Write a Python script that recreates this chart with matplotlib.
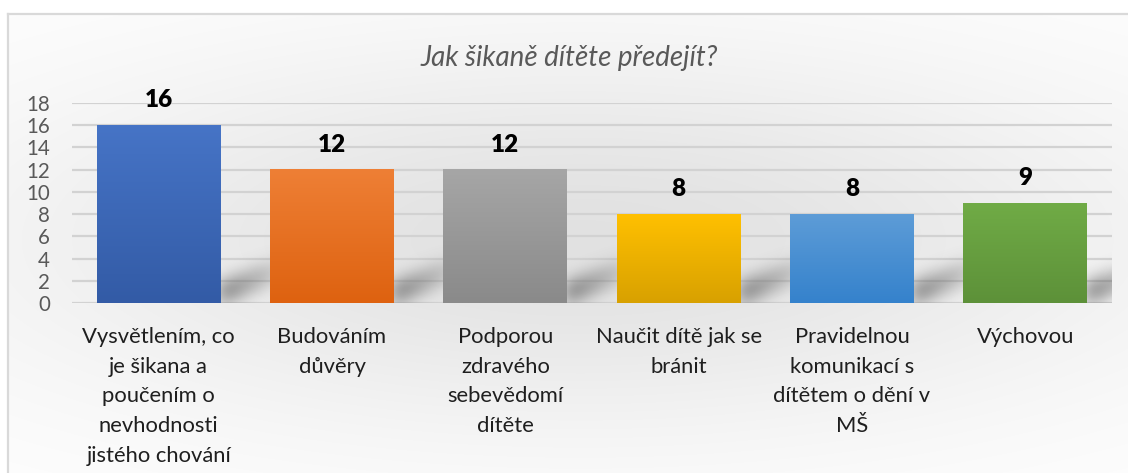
import numpy as np
import matplotlib
matplotlib.use("Agg")
import matplotlib.pyplot as plt

# ---- data ----
title = "Jak šikaně dítěte předejít?"
categories = [
    "Vysvětlením, co\nje šikana a\npoučením o\nnevhodnosti\njistého chování",
    "Budováním\ndůvěry",
    "Podporou\nzdravého\nsebevědomí\ndítěte",
    "Naučit dítě jak se\nbránit",
    "Pravidelnou\nkomunikací s\ndítětem o dění v\nMŠ",
    "Výchovou",
]
values = [16, 12, 12, 8, 8, 9]
yticks = [0, 2, 4, 6, 8, 10, 12, 14, 16, 18]
# gradient colours (top, bottom)
bar_top = ["#4674c6", "#ee7f35", "#a6a6a6", "#ffc000", "#5d9cd7", "#70ab46"]
bar_bot = ["#335ba6", "#de6210", "#8a8a8a", "#d8a100", "#3582cc", "#5d9139"]

W, H, DPI = 1128, 473, 100
plt.rcParams['font.family'] = ['Lato', 'DejaVu Sans']
fig = plt.figure(figsize=(W / DPI, H / DPI), dpi=DPI)

# ---- background with radial gradient and frame ----
bg = fig.add_axes([0, 0, 1, 1], zorder=-10)
bg.set_xlim(0, W); bg.set_ylim(H, 0); bg.axis('off')
yy, xx = np.mgrid[0:H, 0:W]
r2 = ((xx - 580) / 620.0) ** 2 + ((yy - 240) / 200.0) ** 2
val = 1.0 - 0.115 * np.exp(-r2 * 1.1)
img = np.dstack([val, val, val])
img[yy < 14] = 1.0
img[xx < 8] = 1.0
bg.imshow(img, extent=[0, W, H, 0], aspect='auto', interpolation='bilinear')
bg.plot([8, 8], [14, H], color='#d9d9d9', lw=1.6)
bg.plot([8, W], [14, 14], color='#d9d9d9', lw=1.6)

# ---- main axes ----
L, R, T, B = 72, 1112, 103, 303
ax = fig.add_axes([L / W, 1 - B / H, (R - L) / W, (B - T) / H])
ax.set_facecolor('none')
x = np.arange(len(values))
for s in ax.spines.values():
    s.set_visible(False)
ax.set_yticks(yticks)
ax.yaxis.grid(True, color='#d2d2d2', lw=1.6, zorder=0)
ax.set_axisbelow(True)
ax.tick_params(axis='y', length=0, pad=16, labelsize=14.8, labelcolor='#595959')
ax.tick_params(axis='x', length=0, pad=17, labelsize=15.8, labelcolor='#1f1f1f')
ax.set_xticks(x)
ax.set_xticklabels(categories, linespacing=1.62, va='top')

bars = ax.bar(x, values, width=0.715, color=bar_top, zorder=3)

# pixel scales
pxx = (R - L) / len(values)   # px per x unit
pxy = (B - T) / 18.0          # px per y unit

def gblur(a, s):
    n = int(3 * s) + 1
    k = np.arange(-n, n + 1)
    g = np.exp(-k ** 2 / (2 * s * s)); g /= g.sum()
    a = np.apply_along_axis(lambda m: np.convolve(m, g, mode='same'), 0, a)
    a = np.apply_along_axis(lambda m: np.convolve(m, g, mode='same'), 1, a)
    return a

# soft shadows behind bars
for b in bars:
    xr = b.get_x() + b.get_width()
    w_px, h_px, off = 110, 70, 20
    sy, sx = np.mgrid[0:h_px, 0:w_px]
    px = sx - off
    py = (h_px - 1 - sy)
    lower = 0.42 * px - 2
    upper = 0.42 * px + 20
    mask = ((px >= -2) & (px <= 60) & (py >= lower) & (py <= upper)).astype(float)
    mask *= np.clip(1 - px / 80.0, 0.25, 1)
    mask = gblur(mask, 8)
    rgba = np.zeros((h_px, w_px, 4))
    rgba[..., :3] = 0.36
    rgba[..., 3] = np.clip(mask * 0.78, 0, 1)
    x0 = xr - off / pxx
    ax.imshow(rgba, extent=[x0, x0 + w_px / pxx, 0, h_px / pxy], aspect='auto',
              zorder=2, interpolation='bilinear')

# gradient fills on bars
for b, ct, cb in zip(bars, bar_top, bar_bot):
    c1 = np.array(matplotlib.colors.to_rgb(ct))
    c2 = np.array(matplotlib.colors.to_rgb(cb))
    t = np.linspace(0, 1, 64)[:, None]
    grad = (c1 * (1 - t) + c2 * t)[:, None, :]
    ax.imshow(grad, extent=[b.get_x(), b.get_x() + b.get_width(), 0, b.get_height()],
              aspect='auto', zorder=4, interpolation='bilinear')

ax.set_xlim(-0.5, len(values) - 0.5)
ax.set_ylim(0, 18)

for xi, v in zip(x, values):
    ax.annotate(str(v), (xi, v), xytext=(0, 13), textcoords='offset points',
                ha='center', va='baseline', fontsize=17.5, fontweight='heavy',
                color='black', zorder=6, annotation_clip=False)

fig.text(569 / W, 1 - 58 / H, title, ha='center', va='center', fontsize=20,
         style='italic', color='#595959')

fig.savefig('out.png', dpi=DPI)
